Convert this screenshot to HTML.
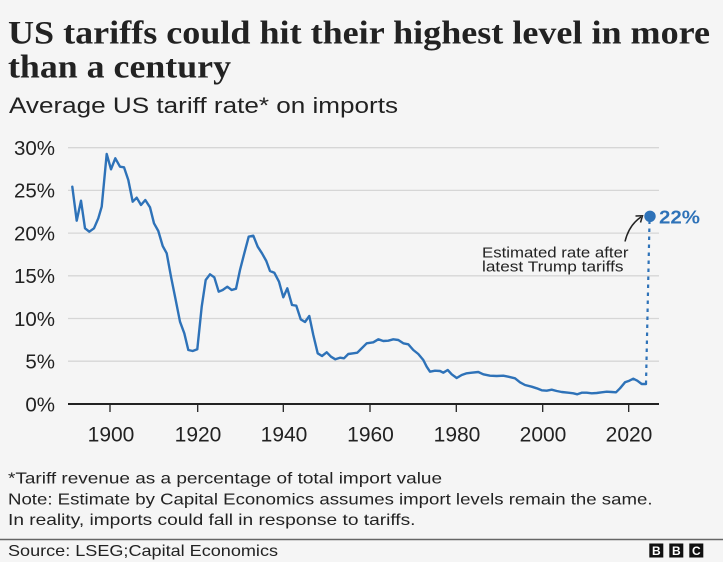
<!DOCTYPE html>
<html><head><meta charset="utf-8"><style>
html,body{margin:0;padding:0;background:#f5f5f5;}
svg{display:block;}
.s{font-family:"Liberation Sans",sans-serif;fill:#222;}
.t{font-family:"Liberation Serif",serif;font-weight:bold;fill:#222;}
</style></head><body>
<svg width="723" height="562" viewBox="0 0 723 562" xmlns="http://www.w3.org/2000/svg">
<rect width="723" height="562" fill="#f5f5f5"/>
<text class="t" x="8" y="43.5" font-size="32.5" textLength="702" lengthAdjust="spacingAndGlyphs">US tariffs could hit their highest level in more</text>
<text class="t" x="8" y="77.5" font-size="32.5" textLength="223" lengthAdjust="spacingAndGlyphs">than a century</text>
<text class="s" x="9" y="113" font-size="22" textLength="389" lengthAdjust="spacingAndGlyphs">Average US tariff rate* on imports</text>

<g stroke="#d6d6d6" stroke-width="1.3">
<line x1="68" x2="659" y1="147.7" y2="147.7"/>
<line x1="68" x2="659" y1="190.4" y2="190.4"/>
<line x1="68" x2="659" y1="233.1" y2="233.1"/>
<line x1="68" x2="659" y1="275.8" y2="275.8"/>
<line x1="68" x2="659" y1="318.5" y2="318.5"/>
<line x1="68" x2="659" y1="361.2" y2="361.2"/>
</g>
<g class="s" font-size="20.5" text-anchor="end">
<text x="55" y="155">30%</text>
<text x="55" y="197.7">25%</text>
<text x="55" y="240.4">20%</text>
<text x="55" y="283.1">15%</text>
<text x="55" y="325.8">10%</text>
<text x="55" y="368.5">5%</text>
<text x="55" y="411.3">0%</text>
</g>
<g stroke="#222" stroke-width="1.3">
<line x1="110" x2="110" y1="404" y2="412"/>
<line x1="197.7" x2="197.7" y1="404" y2="412"/>
<line x1="283.3" x2="283.3" y1="404" y2="412"/>
<line x1="370" x2="370" y1="404" y2="412"/>
<line x1="456.3" x2="456.3" y1="404" y2="412"/>
<line x1="542.7" x2="542.7" y1="404" y2="412"/>
<line x1="628.7" x2="628.7" y1="404" y2="412"/>
</g>
<line x1="68" x2="659" y1="404" y2="404" stroke="#222" stroke-width="2"/>
<g class="s" font-size="21" text-anchor="middle">
<text x="111" y="441.5">1900</text>
<text x="198" y="441.5">1920</text>
<text x="284" y="441.5">1940</text>
<text x="370.5" y="441.5">1960</text>
<text x="457" y="441.5">1980</text>
<text x="543" y="441.5">2000</text>
<text x="629" y="441.5">2020</text>
</g>

<polyline fill="none" stroke="#2e72b8" stroke-width="2.4" stroke-linejoin="round" stroke-linecap="round" points="72.3,186.7 76.7,220.7 81,200.7 85,228.3 89.3,231.7 94,228.3 98.3,218.3 101.7,206.7 106.7,154 111,169.3 115.3,158.3 120,166.7 124,167.3 128.3,180 132.7,201.7 136.7,197.7 141,205 145.3,200 150,207.3 154,223.3 158.3,231 162.7,246 166.7,253.3 171,276.7 175.7,300 180,321.7 184.3,333.3 188.3,350 192.7,351 197.3,349.3 201.7,306.7 205.7,280 210,274.3 214.3,277.3 218.7,291.7 222.7,290 227.3,286.7 231.7,290 236,288.7 240,270 244.3,253.3 248.7,236.7 253.3,235.7 257.7,246.7 262,253.3 266.3,261 270,271 274.3,272.7 279,281.7 283.3,297.3 287.3,288.3 292,305 296.3,305.7 300.7,319.3 305,322 309.3,316 313.3,335 317.7,353.3 322,356 326.7,352.3 331,356.7 335.3,359.3 340,357.7 344,358.3 348.3,354 353.3,353.3 357.3,352.7 360,350 366.7,343.3 373.3,342.3 378.3,339.3 383.3,341 388.3,340.7 393.3,339.3 398.3,340 403.3,343.3 408.3,344.3 413.3,350 418.3,354 423.3,360 426.7,366.7 430,371.7 435,370.7 440,371 443.3,372.7 447.7,370 451.7,374.3 456.7,378 461.7,375 466.7,373.3 471.7,372.7 478.3,372 483.3,374.3 490,375.7 496.7,376 503.3,375.7 508.3,376.7 515,378.3 520,382.3 525,385 531.7,386.7 536.7,388.3 541.7,390.3 546.7,390.7 551.7,389.7 556.7,391 561.7,392 568.3,392.7 573.3,393.3 577.3,394.3 581.7,392.7 586.7,392.7 591.7,393.3 596.7,393 601.7,392.3 606.7,391.7 611.7,392 616,392.3 620,388.3 625,382.3 629.3,380.7 633.3,378.7 637.3,380.7 641.7,384 646,384"/>

<line x1="646" y1="384" x2="649.5" y2="222" stroke="#2e72b8" stroke-width="2.2" stroke-dasharray="3.5,4.5"/>
<circle cx="650" cy="216.3" r="5.7" fill="#2e72b8"/>
<text x="659" y="223.5" font-family="Liberation Sans,sans-serif" font-weight="bold" font-size="18" fill="#2e72b8" textLength="41" lengthAdjust="spacingAndGlyphs">22%</text>

<path d="M625,241.5 Q629,225 641,217" fill="none" stroke="#222" stroke-width="1.5"/>
<polyline points="635.5,216 642.5,215.8 640.5,222.5" fill="none" stroke="#222" stroke-width="1.5" stroke-linejoin="miter"/>
<text class="s" x="482" y="257.3" font-size="14.5" textLength="146.5" lengthAdjust="spacingAndGlyphs">Estimated rate after</text>
<text class="s" x="482" y="271.7" font-size="14.5" textLength="141.5" lengthAdjust="spacingAndGlyphs">latest Trump tariffs</text>

<text class="s" x="8" y="483.3" font-size="16" textLength="434" lengthAdjust="spacingAndGlyphs">*Tariff revenue as a percentage of total import value</text>
<text class="s" x="8" y="504.5" font-size="16" textLength="644.5" lengthAdjust="spacingAndGlyphs">Note: Estimate by Capital Economics assumes import levels remain the same.</text>
<text class="s" x="8" y="525" font-size="16" textLength="407.5" lengthAdjust="spacingAndGlyphs">In reality, imports could fall in response to tariffs.</text>

<line x1="0" x2="723" y1="539.5" y2="539.5" stroke="#666" stroke-width="1.5"/>
<text class="s" x="8" y="556" font-size="16" textLength="270" lengthAdjust="spacingAndGlyphs">Source: LSEG;Capital Economics</text>

<g>
<rect x="649.3" y="543.5" width="14" height="14" fill="#111"/>
<rect x="669.3" y="543.5" width="14" height="14" fill="#111"/>
<rect x="689.3" y="543.5" width="14" height="14" fill="#111"/>
<g font-family="Liberation Sans,sans-serif" font-weight="bold" font-size="12" fill="#fff" text-anchor="middle">
<text x="656.3" y="554.8">B</text>
<text x="676.3" y="554.8">B</text>
<text x="696.3" y="554.8">C</text>
</g>
</g>
</svg>
</body></html>
